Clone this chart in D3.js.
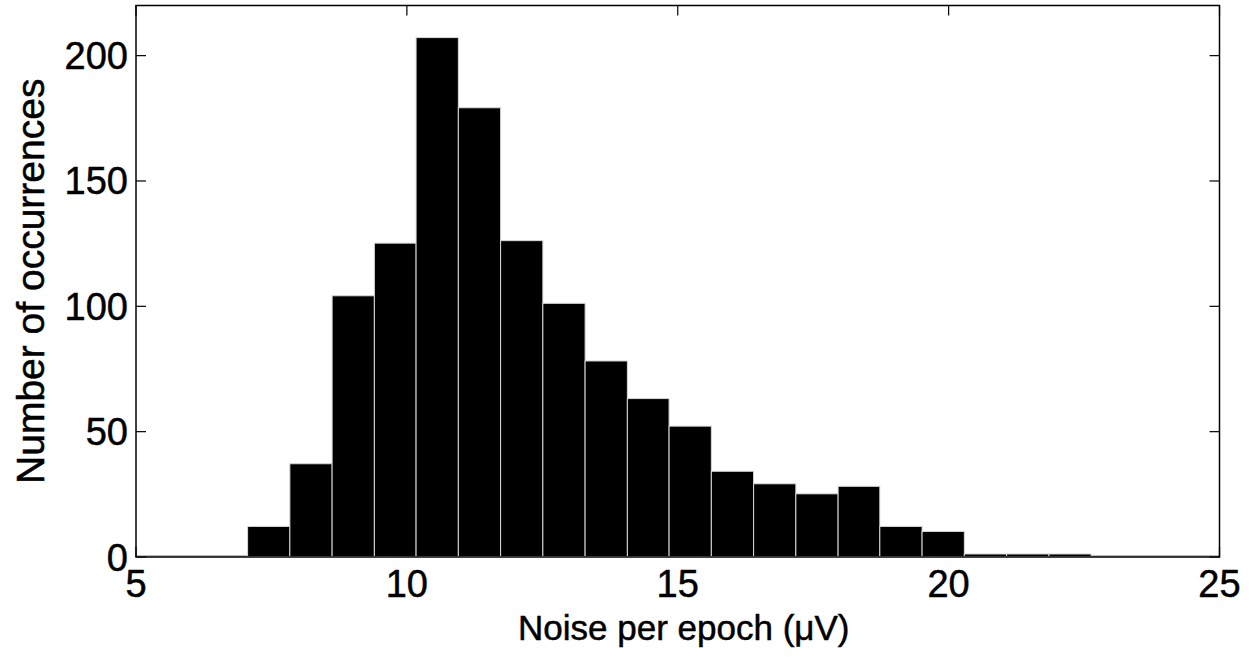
<!DOCTYPE html>
<html>
<head>
    <meta charset="utf-8" />
    <title>Noise histogram</title>
    <style>
        body { margin: 0; background: #fff; }
        #hist_chart { width: 1257px; height: 657px; }
        text { font-family: "Liberation Sans", Arial, Helvetica, sans-serif; fill: #000; stroke: #000; stroke-width: 0.5px; }
    </style>
</head>
<body>
    <div id="hist_chart"></div>
    <script type="text/javascript" src="https://cdnjs.cloudflare.com/ajax/libs/d3/7.8.5/d3.min.js"></script>
    <script>
        // bin edges (uV) and counts per bin
        var binEdges = [7.06, 7.84, 8.62, 9.40, 10.17, 10.95, 11.73, 12.51, 13.29, 14.07, 14.84,
                        15.62, 16.40, 17.18, 17.96, 18.73, 19.51, 20.29, 21.07, 21.85, 22.63]
        var counts = [12, 37, 104, 125, 207, 179, 126, 101, 78, 63, 52, 34, 29, 25, 28, 12, 10, 1, 1, 1]
        var xTicks = [5, 10, 15, 20, 25]
        var yTicks = [0, 50, 100, 150, 200]

        var width = 1257, height = 657
        var margin = { left: 136, right: 37.5, top: 5.5, bottom: 100 }

        var svg = d3.select("#hist_chart")
            .append("svg")
            .attr("width", width)
            .attr("height", height)

        var xScale = d3.scaleLinear()
            .domain([5, 25])
            .range([margin.left, width - margin.right])
        var yScale = d3.scaleLinear()
            .domain([0, 220])
            .range([height - margin.bottom, margin.top])

        var x0 = xScale.range()[0], x1 = xScale.range()[1]
        var y0 = yScale.range()[0], y1 = yScale.range()[1]
        var tickLen = 10

        // ticks (inside, on all four sides) drawn under the bars
        var ticks = svg.append("g").attr("stroke", "#000").attr("stroke-width", 1.2)
        xTicks.forEach(function (t) {
            ticks.append("line").attr("x1", xScale(t)).attr("x2", xScale(t)).attr("y1", y0).attr("y2", y0 - tickLen)
            ticks.append("line").attr("x1", xScale(t)).attr("x2", xScale(t)).attr("y1", y1).attr("y2", y1 + tickLen)
        })
        yTicks.forEach(function (t) {
            ticks.append("line").attr("y1", yScale(t)).attr("y2", yScale(t)).attr("x1", x0).attr("x2", x0 + tickLen)
            ticks.append("line").attr("y1", yScale(t)).attr("y2", yScale(t)).attr("x1", x1).attr("x2", x1 - tickLen)
        })

        // baseline
        svg.append("line")
            .attr("x1", x0).attr("x2", x1)
            .attr("y1", yScale(0) - 1).attr("y2", yScale(0) - 1)
            .attr("stroke", "#777").attr("stroke-width", 1)

        // bars
        svg.append("g")
            .selectAll("rect")
            .data(counts)
            .enter().append("rect")
            .attr("x", function (d, i) { return xScale(binEdges[i]); })
            .attr("width", function (d, i) { return xScale(binEdges[i + 1]) - xScale(binEdges[i]); })
            .attr("y", function (d) { return yScale(d) - 0.5; })
            .attr("height", function (d) { return yScale(0) - yScale(d); })
            .attr("fill", "#000")
            .attr("stroke", "#d8d8d8")
            .attr("stroke-width", 1)

        // axes box
        svg.append("rect")
            .attr("x", x0).attr("y", y1)
            .attr("width", x1 - x0).attr("height", y0 - y1)
            .attr("fill", "none").attr("stroke", "#000").attr("stroke-width", 1.5)

        // tick labels
        svg.append("g").selectAll("text")
            .data(xTicks)
            .enter().append("text")
            .attr("x", function (d) { return xScale(d); })
            .attr("y", 597)
            .attr("text-anchor", "middle")
            .attr("font-size", "38px")
            .text(function (d) { return d; })

        svg.append("g").selectAll("text")
            .data(yTicks)
            .enter().append("text")
            .attr("x", x0 - 8)
            .attr("y", function (d) { return yScale(d) + 13.5; })
            .attr("text-anchor", "end")
            .attr("font-size", "38px")
            .text(function (d) { return d; })

        // axis labels
        svg.append("text")
            .attr("x", (x0 + x1) / 2 + 6)
            .attr("y", 640)
            .attr("text-anchor", "middle")
            .attr("font-size", "35px")
            .text("Noise per epoch (\u03BCV)")

        svg.append("text")
            .attr("transform", "translate(44," + ((y0 + y1) / 2) + ") rotate(-90)")
            .attr("text-anchor", "middle")
            .attr("font-size", "39px")
            .text("Number of occurrences")
    </script>
</body>
</html>
